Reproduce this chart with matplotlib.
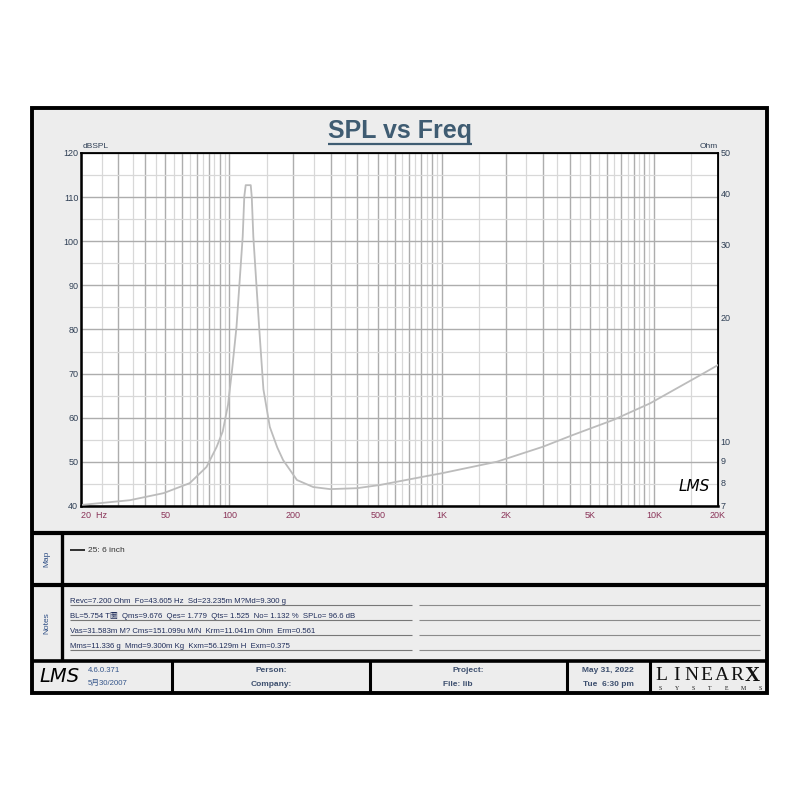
import matplotlib
matplotlib.use("Agg")
import matplotlib.pyplot as plt
import numpy as np
from matplotlib.patches import Rectangle
from matplotlib.lines import Line2D
from matplotlib.ticker import FixedLocator, NullFormatter, FixedFormatter
import matplotlib.transforms as mtransforms

# ---------------- data ----------------
freq_hz = [20, 34, 49, 65, 78, 87, 93, 98.5, 103, 108, 115.5, 117.5, 119.3, 126, 127.4,
           129.6, 138, 144.6, 155, 168, 179, 208, 248, 298, 399, 512, 881, 1000, 1822,
           3000, 4154, 6412, 9572, 16472, 20000]
impedance_ohm = [7.04, 7.23, 7.52, 7.95, 8.70, 9.72, 10.6, 12.3, 15.0, 19.0, 31.4, 39.2, 41.8,
                 41.8, 39.2, 31.4, 19.0, 13.4, 10.87, 9.7, 9.04, 8.09, 7.78, 7.69, 7.73,
                 7.87, 8.30, 8.40, 8.96, 9.74, 10.4, 11.3, 12.4, 14.5, 15.35]

x_tick_freqs = [20, 50, 100, 200, 500, 1000, 2000, 5000, 10000, 20000]
x_tick_labels = ["20  Hz", "50", "100", "200", "500", "1K", "2K", "5K", "10K", "20K"]
spl_ticks = [40, 50, 60, 70, 80, 90, 100, 110, 120]
ohm_ticks = [7, 8, 9, 10, 20, 30, 40, 50]
legend_label = "25: 6 inch"
notes_lines = [
    "Revc=7.200 Ohm  Fo=43.605 Hz  Sd=23.235m M?Md=9.300 g",
    "BL=5.754 T圖  Qms=9.676  Qes= 1.779  Qts= 1.525  No= 1.132 %  SPLo= 96.6 dB",
    "Vas=31.583m M? Cms=151.099u M/N  Krm=11.041m Ohm  Erm=0.561",
    "Mms=11.336 g  Mmd=9.300m Kg  Kxm=56.129m H  Exm=0.375",
]
version_lines = ["4.6.0.371", "5月30/2007"]
person_lines = ["Person:", "Company:"]
project_lines = ["Project:", "File: lib"]
date_lines = ["May 31, 2022", "Tue  6:30 pm"]

FONT = ["Liberation Sans", "Noto Sans CJK SC", "DejaVu Sans"]
plt.rcParams["font.family"] = FONT

W = H = 800.0
def fx(x):
    return x / W
def fy(y):
    return 1 - y / H

fig = plt.figure(figsize=(8, 8), dpi=100)
fig.patch.set_facecolor("white")

def rect(x0, y0, x1, y1, fc="none", ec="black", lw=1.0, z=0):
    r = Rectangle((fx(x0), fy(y1)), fx(x1) - fx(x0), fy(y0) - fy(y1),
                  transform=fig.transFigure, facecolor=fc, edgecolor=ec, lw=lw, zorder=z)
    fig.add_artist(r)

def line(x0, y0, x1, y1, color="black", lw=1.0, z=1):
    fig.add_artist(Line2D([fx(x0), fx(x1)], [fy(y0), fy(y1)], transform=fig.transFigure,
                          color=color, lw=lw, zorder=z, solid_capstyle="butt"))

# outer frame
rect(32, 108, 767, 693, fc="#ededed", ec="black", lw=2.8, z=0)
# section separators
line(32, 533, 767, 533, lw=3.0)
line(32, 585, 767, 585, lw=3.0)
line(32, 661, 767, 661, lw=2.6)
line(62, 533, 62, 661, lw=2.4)
for xd in [172, 370, 567, 650]:
    line(xd, 661, xd, 693, lw=2.2)

# ---------------- chart ----------------
L, R, T, B = 81, 718, 153, 506
ax = fig.add_axes([fx(L), fy(B), fx(R) - fx(L), fy(T) - fy(B)])
ax.set_facecolor("white")
ax.set_xscale("log")
ax.set_xlim(20, 20000)
ax.set_ylim(40, 120)

major_x = [m * d for d in [10, 100, 1000, 10000] for m in range(1, 10)]
major_x = [v for v in major_x if 20 <= v <= 20000]
minor_x = [(m + 0.5) * d for d in [10, 100, 1000, 10000] for m in range(1, 10)]
minor_x = [v for v in minor_x if 20 < v < 20000]
ax.xaxis.set_major_locator(FixedLocator(major_x))
ax.xaxis.set_minor_locator(FixedLocator(minor_x))
ax.xaxis.set_major_formatter(NullFormatter())
ax.xaxis.set_minor_formatter(NullFormatter())
ax.yaxis.set_major_locator(FixedLocator(spl_ticks))
ax.yaxis.set_minor_locator(FixedLocator([v + 5 for v in spl_ticks[:-1]]))
ax.set_yticklabels([str(v) for v in spl_ticks])
ax.tick_params(which="both", length=0)
ax.tick_params(axis="y", labelsize=6.5, labelcolor="#2f3f55", pad=2)
ax.grid(which="major", color="#adadad", lw=1.0)
ax.grid(which="minor", color="#d8d8d8", lw=0.9)
ax.set_axisbelow(True)
for s in ["left", "bottom"]:
    ax.spines[s].set_linewidth(1.8)
for s in ["top", "right"]:
    ax.spines[s].set_linewidth(1.3)

ax2 = ax.twinx()
ax2.set_yscale("log")
ax2.set_ylim(7, 50)
ax2.yaxis.set_major_locator(FixedLocator(ohm_ticks))
ax2.yaxis.set_major_formatter(FixedFormatter([str(v) for v in ohm_ticks]))
ax2.yaxis.set_minor_locator(FixedLocator([]))
ax2.tick_params(which="both", length=0)
ax2.tick_params(axis="y", labelsize=6.5, labelcolor="#2f3f55", pad=2)
ax2.plot(freq_hz, impedance_ohm, color="#bcbcbc", lw=1.3)
ax2.set_xlim(20, 20000)

# x tick labels
trans = mtransforms.blended_transform_factory(ax.transData, ax.transAxes)
for f, lab in zip(x_tick_freqs, x_tick_labels):
    ha = "left" if f == x_tick_freqs[0] else "center"
    ax.text(f, -9 / (B - T), lab, transform=trans, ha=ha, va="center",
            fontsize=6.5, color="#8a3358")

ax.text(2 / (R - L), 1 + 7 / (B - T), "dBSPL", transform=ax.transAxes, ha="left",
        va="center", fontsize=6, color="#2f3f55")
ax.text(1, 1 + 7 / (B - T), "Ohm", transform=ax.transAxes, ha="right",
        va="center", fontsize=6, color="#2f3f55")
ax.text(0.987, 0.055, "LMS", transform=ax.transAxes, ha="right", va="center",
        fontsize=11, style="italic", family="DejaVu Sans", fontweight="light", color="black")

# title
title = fig.text(0.5, fy(131), "SPL vs Freq", ha="center", va="center", fontsize=18,
                 fontweight="bold", color="#3f5c72")
fig.canvas.draw()
bb = title.get_window_extent(fig.canvas.get_renderer())
line(bb.x0, 144, bb.x1, 144, color="#3f5c72", lw=1.6)

# ---------------- map section ----------------
fig.text(fx(47), fy(559), "Map", rotation=90, ha="center", va="center", fontsize=6,
         color="#2f4f86")
line(70, 550, 85, 550, color="#222222", lw=1.3)
fig.text(fx(88), fy(550), legend_label, ha="left", va="center", fontsize=6, color="#333333")

# ---------------- notes ----------------
fig.text(fx(47), fy(623), "Notes", rotation=90, ha="center", va="center", fontsize=6,
         color="#2f4f86")
for i, txt in enumerate(notes_lines):
    yy = 601.5 + 15 * i
    fig.text(fx(70), fy(yy), txt, ha="left", va="center", fontsize=5.6, color="#1f2d5a")
    line(70, yy + 3.6, 412, yy + 3.6, color="#777777", lw=0.8)
    line(419, yy + 3.6, 760, yy + 3.6, color="#8a8a8a", lw=0.8)

# ---------------- footer ----------------
fig.text(fx(60), fy(677), "LMS", ha="center", va="center", fontsize=14, style="italic",
         family="DejaVu Sans", fontweight="light", color="black")
for i, t in enumerate(version_lines):
    fig.text(fx(88), fy(670 + 13.5 * i), t, ha="left", va="center", fontsize=5.6,
             color="#34558a")
for i, t in enumerate(person_lines):
    fig.text(fx(271), fy(671 + 13 * i), t, ha="center", va="center", fontsize=6,
             fontweight="bold", color="#3d4f6e")
for i, t in enumerate(project_lines):
    fig.text(fx(468 - 10 * i), fy(671 + 13 * i), t, ha="center", va="center", fontsize=6,
             fontweight="bold", color="#3d4f6e")
for i, t in enumerate(date_lines):
    fig.text(fx(608), fy(671 + 13 * i), t, ha="center", va="center", fontsize=6,
             fontweight="bold", color="#3d4f6e")

brand = "LINEARX"
bx = np.linspace(661, 752, len(brand))
for i, ch in enumerate(brand):
    bold = ch == "X"
    fig.text(fx(bx[i]), fy(676), ch, ha="center", va="center",
             fontsize=15 if bold else 14, family="Liberation Serif",
             fontweight="bold" if bold else "normal", color="#111111")
sub = "SYSTEMS"
sx = np.linspace(660, 760, len(sub))
for i, ch in enumerate(sub):
    fig.text(fx(sx[i]), fy(688.5), ch, ha="center", va="center", fontsize=4.2,
             family="Liberation Serif", color="#111111")

fig.savefig("out.png", dpi=100, facecolor="white")
